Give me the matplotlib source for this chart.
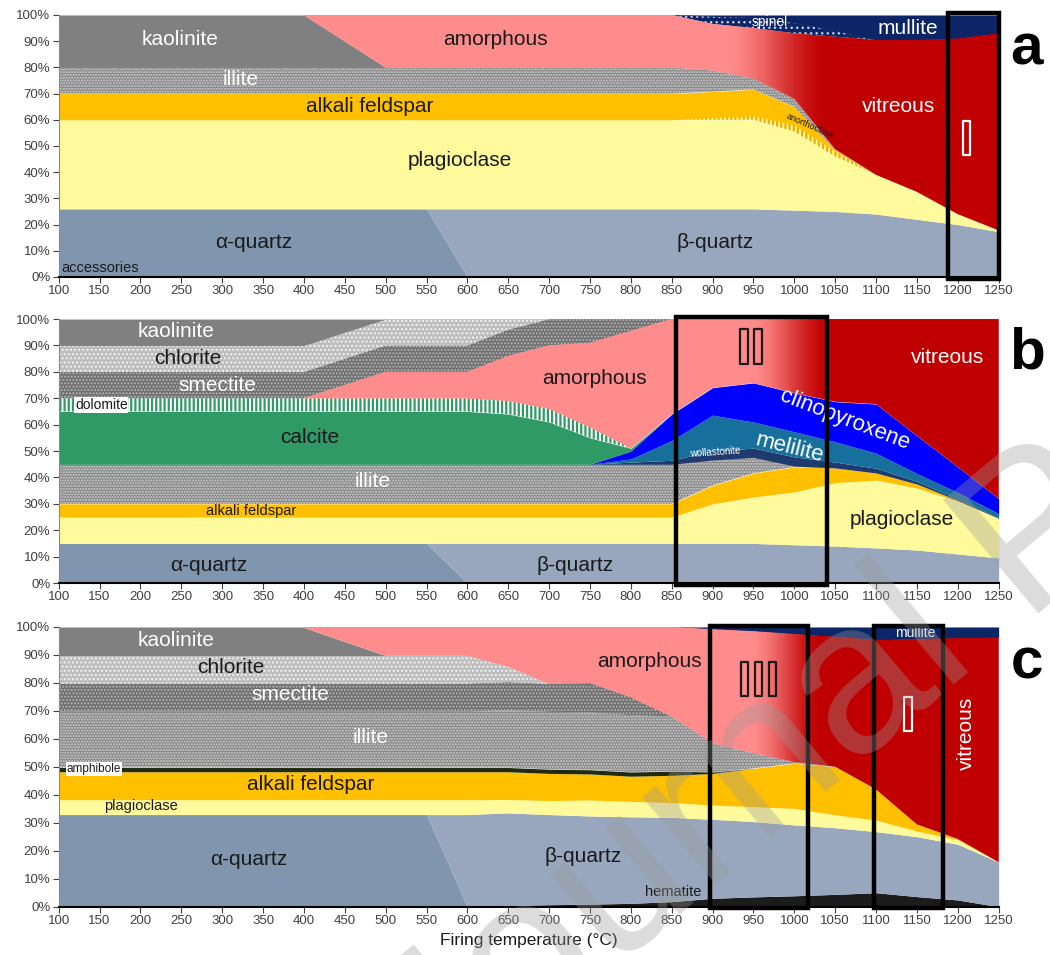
import numpy as np
import matplotlib
matplotlib.use("Agg")
import matplotlib.pyplot as plt
from matplotlib.patches import Rectangle
from matplotlib import patheffects as pe
from matplotlib.colors import to_rgb

plt.rcParams['font.family'] = ['Liberation Sans', 'DejaVu Sans']
plt.rcParams['hatch.linewidth'] = 1.0

# Firing temperatures (°C)
temps = np.arange(100, 1300, 50)
x_ticks = list(range(100, 1300, 50))
y_ticks = list(range(0, 110, 10))

# ---- Panel a: phase abundances (%) ----
a_alpha_qz = [26] * 10 + [0] * 14
a_beta_qz = [0] * 10 + [26] * 8 + [25.5, 25, 24, 22, 20, 17.3]
a_plag = [34] * 18 + [30, 21, 15, 10.5, 4, 0.5]
a_anorth = [0] * 16 + [0.8, 1.5, 2.5, 2, 0, 0, 0, 0]
a_alkali = [10] * 16 + [10, 10.1, 7, 0.5, 0, 0, 0, 0]
a_illite = [10] * 16 + [8, 4.2, 3, 0.3, 0, 0, 0, 0]
a_kaol = [20] * 7 + [10, 0] + [0] * 15
a_spinel = [0] * 16 + [2.9, 4, 4, 2.3, 0, 0, 0, 0]
a_mullite = [0] * 16 + [0.5, 1, 3, 6, 9.5, 9.5, 9, 7]

# ---- Panel b ----
b_alpha_qz = [15] * 10 + [0] * 14
b_beta_qz = [0] * 10 + [15] * 8 + [14.5, 14, 13.3, 12.5, 11, 9.5]
b_plag = [10] * 16 + [15, 17.6, 20, 24, 25.7, 23.5, 20, 15]
b_alkali = [5] * 16 + [7, 9, 9.5, 5.6, 2.7, 1.5, 0.3, 0]
b_illite = [15] * 16 + [9.6, 6, 0.3, 0, 0, 0, 0, 0]
b_woll = [0] * 14 + [0.8, 1.5, 3.5, 3.5, 3.5, 2.2, 1.8, 1, 0.5, 0.3]
b_mel = [0] * 14 + [1.2, 7.5, 13.5, 9.9, 9.5, 7.7, 5.7, 3, 2.5, 1.5]
b_cpx = [0] * 14 + [3, 10, 10.4, 14.8, 14.7, 15.2, 18.6, 14.3, 9.7, 5.7]
b_calcite = [20] * 11 + [19, 16, 10, 1, 0] + [0] * 8
b_dolomite = [5] * 11 + [5, 5, 4, 0] + [0] * 9
b_smect = [10] * 13 + [9, 4.5, 0] + [0] * 8
b_chlor = [10] * 11 + [4, 0] + [0] * 11
b_kaol = [10] * 7 + [5, 0] + [0] * 15

# ---- Panel c ----
c_hem = [0] * 11 + [0.5, 0.8, 1, 1.3, 1.9, 3.1, 3.6, 4, 4.5, 5.1, 3.7, 2.5, 0.1]
c_alpha_qz = [33] * 10 + [0] * 14
c_beta_qz = [0] * 10 + [33, 33.1, 32.2, 31.5, 30.9, 30.1, 28.2, 26.9, 25.3,
                        23.8, 21.8, 21.4, 19.9, 15.9]
c_plag = [5.3] * 11 + [4.8, 5, 5.7, 5.5, 5.3, 5.1, 5.3, 5.9, 4.6, 4.1, 2, 1.6, 0]
c_alkali = [10] * 11 + [9.9, 9.7, 9.3, 9, 9.7, 11.3, 13.7, 16.1, 17.2, 11, 2.4, 0.3, 0]
c_amph = [1.5] * 16 + [0.5, 0, 0, 0, 0, 0, 0, 0]
c_illite = [20] * 11 + [20.5, 20.5, 20.5, 20.3, 19.5, 10.3, 5.4, 0.5, 0, 0, 0, 0, 0]
c_smect = [10] * 13 + [10.5, 6.4, 0] + [0] * 8
c_chlor = [10] * 11 + [5.5, 0] + [0] * 11
c_kaol = [10] * 7 + [5, 0] + [0] * 15
c_mullite = [0] * 16 + [0.8, 1.5, 2.5, 3.5, 4.6, 4.3, 4, 3.8]

# ---- colours / fills ----
AQ = '#8095ae'
BQ = '#98a7be'
PLAG = '#fffa9c'
ALK = '#ffc000'
PINK = '#ff8c8c'
RED = '#c00000'
NAVY = '#0b2566'
STY = {
    'alpha_qz': dict(fc=AQ),
    'beta_qz': dict(fc=BQ),
    'plag': dict(fc=PLAG),
    'anorth': dict(fc=PLAG, hc='#f0ad00', hatch='||||', hlw=1.6),
    'alkali': dict(fc=ALK),
    'illite': dict(fc='#878787', hc='#d2d2d2', hatch='......'),
    'kaol': dict(fc='#808080'),
    'chlor': dict(fc='#bdbdbd', hc='#f2f2f2', hatch='....'),
    'smect': dict(fc='#6f6f6f', hc='#b5b5b5', hatch='.....'),
    'spinel': dict(fc=NAVY, hc='#c8cce0', hatch='...'),
    'mullite': dict(fc=NAVY),
    'woll': dict(fc='#1f3a6e'),
    'mel': dict(fc='#17709b'),
    'cpx': dict(fc='#0000ff'),
    'calcite': dict(fc='#2f9a66'),
    'dolomite': dict(fc='white', hc='#2f9a66', hatch='||||', hlw=1.6),
    'hem': dict(fc='#1c1c1c'),
    'amph': dict(fc='#1f2a10'),
}


def draw_panel(ax, layers, grad):
    """Stack the layers bottom-up; 'amorph' is the remainder to 100 %."""
    arrs = {k: np.asarray(v, float) for k, v in layers if k != 'amorph'}
    total = sum(arrs.values())
    base = np.zeros(len(temps))
    for key, vals in layers:
        v = 100 - total if key == 'amorph' else np.asarray(vals, float)
        top = base + v
        if key == 'amorph':
            poly = ax.fill_between(temps, base, top, facecolor=PINK, linewidth=0, zorder=1)
            g0, g1 = grad
            xs = np.linspace(100, 1250, 1200)
            t = np.clip((xs - g0) / (g1 - g0), 0, 1)
            t = t * t * (3 - 2 * t)
            c0, c1 = np.array(to_rgb(PINK)), np.array(to_rgb(RED))
            row = c0[None, :] * (1 - t[:, None]) + c1[None, :] * t[:, None]
            img = np.repeat(row[None, :, :], 2, axis=0)
            im = ax.imshow(img, extent=[100, 1250, 0, 100], aspect='auto',
                           origin='lower', zorder=1.1, interpolation='bilinear')
            im.set_clip_path(poly.get_paths()[0], transform=ax.transData)
        else:
            s = STY[key]
            with plt.rc_context({'hatch.linewidth': s.get('hlw', 1.0)}):
                ax.fill_between(temps, base, top, facecolor=s['fc'],
                                edgecolor=s.get('hc', s['fc']), hatch=s.get('hatch'),
                                linewidth=0, zorder=1)
        base = top


def style_axes(ax):
    ax.set_xlim(100, 1250)
    ax.set_ylim(0, 100)
    ax.set_xticks(x_ticks)
    ax.set_yticks(y_ticks)
    ax.set_yticklabels([f"{v}%" for v in y_ticks])
    ax.tick_params(labelsize=9.5, colors='#404040', length=4, width=0.8,
                   direction='out', pad=2)
    for sp in ('top', 'right'):
        ax.spines[sp].set_visible(False)
    ax.spines['left'].set_color('#8a8a8a')
    ax.spines['bottom'].set_color('black')
    ax.spines['bottom'].set_linewidth(1.5)
    ax.spines['bottom'].set_zorder(5)


def box(ax, x0, x1, y0=-0.8, y1=100.8):
    ax.add_patch(Rectangle((x0, y0), x1 - x0, y1 - y0, fill=False, ec='black',
                           lw=3.2, zorder=6, clip_on=False))


def numeral(ax, x, y, s, color):
    ax.text(x, y, s, color='none', fontsize=36, fontweight='bold', ha='center',
            va='center', zorder=7,
            path_effects=[pe.Stroke(linewidth=1.6, foreground=color)])


def label(ax, x, y, s, color='black', size=15, **kw):
    ax.text(x, y, s, color=color, fontsize=size, ha='center', va='center',
            zorder=4, **kw)


fig = plt.figure(figsize=(10.5, 9.55), dpi=100)
ax_a = fig.add_axes([0.0559, 0.7100, 0.8952, 0.2743])
ax_b = fig.add_axes([0.0559, 0.3895, 0.8952, 0.2764])
ax_c = fig.add_axes([0.0559, 0.0503, 0.8952, 0.2932])

# Panel a
draw_panel(ax_a, [('alpha_qz', a_alpha_qz), ('beta_qz', a_beta_qz), ('plag', a_plag),
                  ('anorth', a_anorth), ('alkali', a_alkali), ('illite', a_illite),
                  ('kaol', a_kaol), ('amorph', None), ('spinel', a_spinel),
                  ('mullite', a_mullite)], (915, 1045))
style_axes(ax_a)
label(ax_a, 248, 90.5, 'kaolinite', 'white')
label(ax_a, 634, 90.5, 'amorphous', '#1a1a1a')
label(ax_a, 323, 75.5, 'illite', 'white')
label(ax_a, 481, 65, 'alkali feldspar', '#1a1a1a')
label(ax_a, 591, 44.6, 'plagioclase', '#1a1a1a')
label(ax_a, 339, 13, 'α-quartz', '#1a1a1a')
label(ax_a, 903, 13, 'β-quartz', '#1a1a1a')
ax_a.text(103, 3.6, 'accessories', fontsize=10.5, color='#1a1a1a', ha='left',
          va='center', zorder=4)
label(ax_a, 970, 97.3, 'spinel', 'white', 10)
label(ax_a, 1139, 95, 'mullite', 'white')
label(ax_a, 1127, 65, 'vitreous', 'white')
label(ax_a, 1019, 57.5, 'anorthoclase', '#1a1a1a', 6.5, rotation=-24)
numeral(ax_a, 1211, 51.5, 'I', 'white')
box(ax_a, 1188, 1250)

# Panel b
draw_panel(ax_b, [('alpha_qz', b_alpha_qz), ('beta_qz', b_beta_qz), ('plag', b_plag),
                  ('alkali', b_alkali), ('illite', b_illite), ('woll', b_woll),
                  ('mel', b_mel), ('cpx', b_cpx), ('calcite', b_calcite),
                  ('dolomite', b_dolomite), ('amorph', None), ('smect', b_smect),
                  ('chlor', b_chlor), ('kaol', b_kaol)], (945, 1045))
style_axes(ax_b)
label(ax_b, 243, 95.3, 'kaolinite', 'white')
label(ax_b, 258, 85.2, 'chlorite', '#1a1a1a')
label(ax_b, 294, 75, 'smectite', 'white')
ax_b.text(120, 67.4, 'dolomite', fontsize=10, color='#1a1a1a', ha='left', va='center',
          zorder=4, bbox=dict(fc='white', ec='none', pad=0.5))
label(ax_b, 407, 55, 'calcite', '#1a1a1a')
label(ax_b, 484, 38.3, 'illite', 'white')
label(ax_b, 336, 27.3, 'alkali feldspar', '#1a1a1a', 10.5)
label(ax_b, 283, 6.8, 'α-quartz', '#1a1a1a')
label(ax_b, 732, 6.8, 'β-quartz', '#1a1a1a')
label(ax_b, 756, 77.3, 'amorphous', '#1a1a1a')
label(ax_b, 1188, 85.6, 'vitreous', 'white')
label(ax_b, 1062, 62, 'clinopyroxene', 'white', 16, rotation=-21)
label(ax_b, 994, 51, 'melilite', 'white', 16, rotation=-14)
label(ax_b, 903, 49.4, 'wollastonite', 'white', 7, rotation=4)
label(ax_b, 1131, 24, 'plagioclase', '#1a1a1a')
numeral(ax_b, 947, 88, 'II', '#1a1a1a')
box(ax_b, 855, 1040)

# Panel c
draw_panel(ax_c, [('hem', c_hem), ('alpha_qz', c_alpha_qz), ('beta_qz', c_beta_qz),
                  ('plag', c_plag), ('alkali', c_alkali), ('amph', c_amph),
                  ('illite', c_illite), ('smect', c_smect), ('chlor', c_chlor),
                  ('kaol', c_kaol), ('amorph', None), ('mullite', c_mullite)],
           (945, 1035))
style_axes(ax_c)
label(ax_c, 243, 95, 'kaolinite', 'white')
label(ax_c, 311, 85.4, 'chlorite', '#1a1a1a')
label(ax_c, 383, 76, 'smectite', 'white')
label(ax_c, 482, 60.4, 'illite', 'white')
ax_c.text(110, 49.3, 'amphibole', fontsize=8.5, color='#1a1a1a', ha='left',
          va='center', zorder=4, bbox=dict(fc='white', ec='none', pad=0.4))
label(ax_c, 408, 43.6, 'alkali feldspar', '#1a1a1a')
label(ax_c, 200, 36, 'plagioclase', '#1a1a1a', 10.5)
label(ax_c, 332, 16.8, 'α-quartz', '#1a1a1a')
label(ax_c, 741, 17.9, 'β-quartz', '#1a1a1a')
label(ax_c, 823, 87.5, 'amorphous', '#1a1a1a')
label(ax_c, 1148, 97.9, 'mullite', 'white', 10)
label(ax_c, 1211, 62, 'vitreous', 'white', rotation=90)
label(ax_c, 852, 5.4, 'hematite', '#1a1a1a', 10.5)
numeral(ax_c, 956, 80, 'III', '#1a1a1a')
numeral(ax_c, 1139, 67.5, 'I', 'white')
box(ax_c, 897, 1017, -0.5, 100.5)
box(ax_c, 1098, 1182, -0.5, 100.5)
ax_c.set_xlabel('Firing temperature (°C)', fontsize=12.5, color='#1a1a1a', labelpad=4)

# Panel letters
for ax, letter in ((ax_a, 'a'), (ax_b, 'b'), (ax_c, 'c')):
    ax.text(1.03, 0.87, letter, transform=ax.transAxes, fontsize=42,
            fontweight='bold', ha='center', va='center')

# Watermark
fig.text(0.418, -0.169, 'Journal Pre-proof', fontsize=155, color='#9a9a9a', alpha=0.35,
         rotation=40, rotation_mode='anchor', ha='left', va='baseline', zorder=20)

fig.savefig('out.png', dpi=100)
